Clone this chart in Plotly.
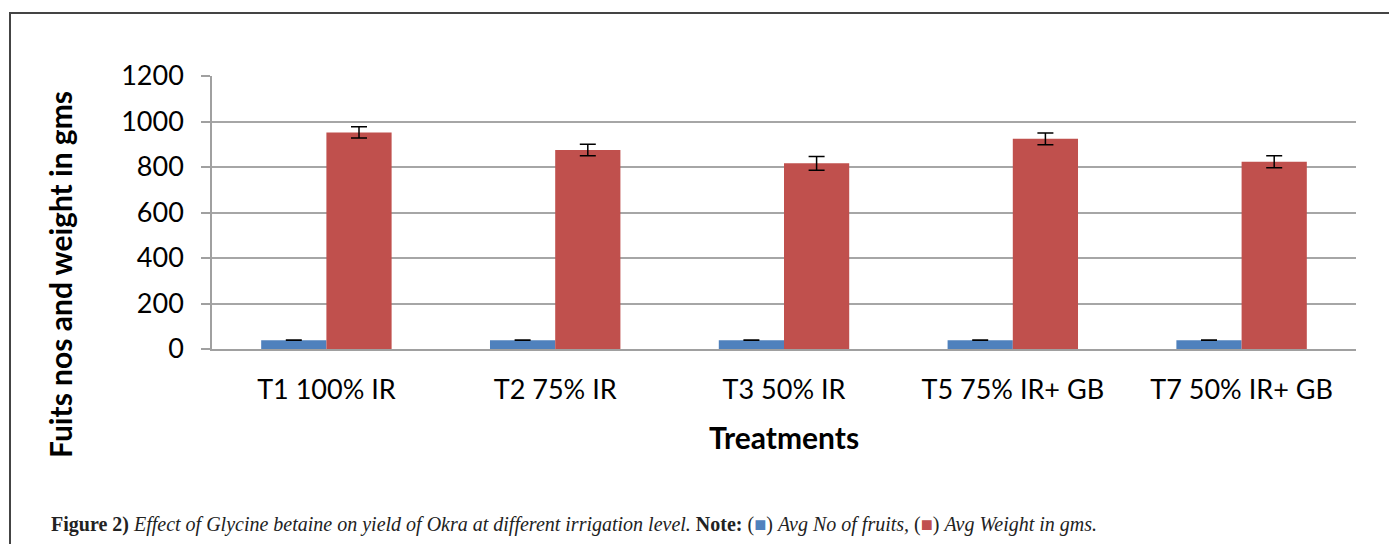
import plotly.graph_objects as go

categories = ["T1 100% IR", "T2 75% IR", "T3 50% IR", "T5 75% IR+ GB", "T7 50% IR+ GB"]
avg_fruits = [39, 39, 39, 39, 39]
avg_fruits_err = [1, 1, 1, 1, 1]
avg_weight = [952, 875, 816, 924, 823]
avg_weight_err = [25, 25, 30, 26, 26]
y_ticks = [0, 200, 400, 600, 800, 1000, 1200]

OFF = 8  # page body margin
W, H = 1397 - OFF, 544 - OFF
L, R, T, B = 212 - OFF, 41, 76 - OFF, 195
pw, ph = W - L - R, H - T - B

def px_x(x):
    return (x - OFF - L) / pw

def px_y(y):
    return (H - B - (y - OFF)) / ph

fig = go.Figure()
fig.add_trace(go.Bar(
    x=categories, y=avg_fruits, name="Avg No of fruits",
    marker=dict(color="#4f81bd", line=dict(width=0)),
    error_y=dict(type="data", array=avg_fruits_err, color="#000000", thickness=1.5, width=8),
))
fig.add_trace(go.Bar(
    x=categories, y=avg_weight, name="Avg Weight in gms",
    marker=dict(color="#c0504d", line=dict(width=0)),
    error_y=dict(type="data", array=avg_weight_err, color="#000000", thickness=1.5, width=8),
))

fig.update_layout(
    width=W, height=H,
    margin=dict(l=L, r=R, t=T, b=B, pad=0),
    paper_bgcolor="white", plot_bgcolor="white",
    barmode="group", bargap=0.43, bargroupgap=0,
    showlegend=False,
    font=dict(family="Lato, 'Open Sans', sans-serif", color="#000000"),
)
fig.update_xaxes(
    showgrid=False, showline=True, linecolor="#a0a0a0", linewidth=1.5,
    ticks="", tickfont=dict(size=27, family="Lato, sans-serif", color="#000000"),
    ticklabelstandoff=16,
)
fig.update_yaxes(
    range=[0, 1200], tickvals=y_ticks, showgrid=True, gridcolor="#a6a6a6", gridwidth=1.5,
    showline=True, linecolor="#a0a0a0", linewidth=1.5,
    ticks="outside", ticklen=9, tickcolor="#a0a0a0", tickwidth=1.5,
    tickfont=dict(size=27, family="Lato, sans-serif", color="#000000"),
    ticklabelstandoff=12,
    zeroline=False,
)

fig.add_annotation(
    text="<b>Treatments</b>", xref="paper", yref="paper",
    x=px_x(784), y=px_y(437), xanchor="center", yanchor="middle",
    showarrow=False, font=dict(size=30, family="Lato, sans-serif", color="#000000"),
)
fig.add_annotation(
    text="<b>Fuits nos and weight in gms</b>", xref="paper", yref="paper",
    x=px_x(60), y=px_y(275), xanchor="center", yanchor="middle", textangle=-90,
    showarrow=False, font=dict(size=30, family="Lato, sans-serif", color="#000000"),
)
caption = ("<b>Figure 2)</b> <i>Effect of Glycine betaine on yield of Okra at different irrigation level.</i> "
           "<b>Note:</b> (<span style='color:#4f81bd'>■</span>) <i>Avg No of fruits,</i> "
           "(<span style='color:#c0504d'>■</span>) <i>Avg Weight in gms.</i>")
fig.add_annotation(
    text=caption, xref="paper", yref="paper",
    x=px_x(49), y=px_y(524), xanchor="left", yanchor="middle",
    showarrow=False, font=dict(size=20, family="'Liberation Serif', serif", color="#222222"),
)
fig.add_shape(
    type="rect", xref="paper", yref="paper",
    x0=px_x(10), x1=px_x(1420), y0=px_y(570), y1=px_y(13),
    line=dict(color="#444444", width=2), fillcolor="rgba(0,0,0,0)", layer="below",
)

fig.write_html("out.html")
